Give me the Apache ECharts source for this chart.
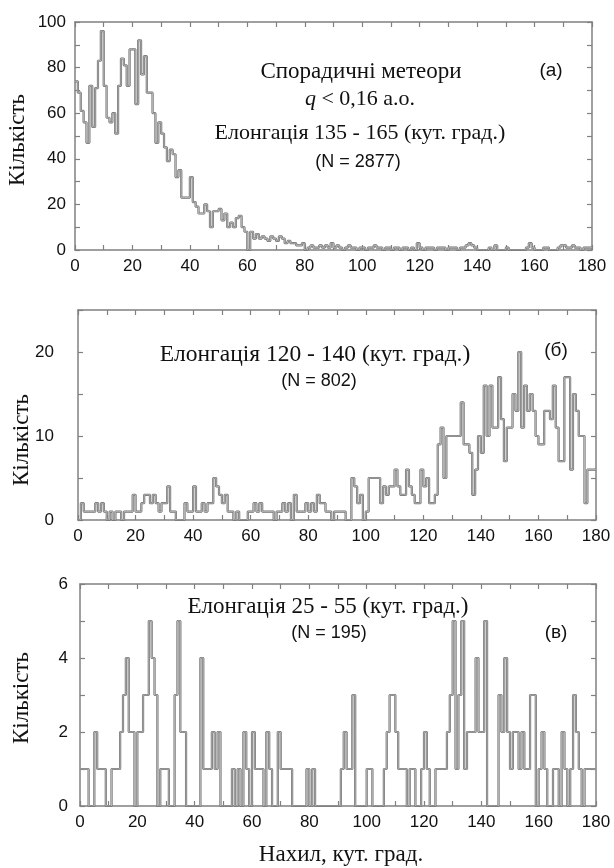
<!DOCTYPE html>
<html>
<head>
<meta charset="utf-8">
<script src="https://cdn.jsdelivr.net/npm/echarts@6/dist/echarts.min.js"></script>
<style>
  html, body { margin: 0; padding: 0; background: #fff; }
  #chart { width: 614px; height: 868px; }
</style>
</head>
<body>
<div id="chart"></div>
<script>
// Inclination bins: 1 degree wide, 0..179
const binStarts = Array.from({ length: 180 }, (_, i) => i);

// (a) Sporadic meteors, q < 0.16 AU, elongation 135-165
const countsA = [
  74, 69, 61, 56, 47, 72, 54, 71, 83, 96,
  72, 58, 56, 60, 51, 72, 84, 81, 72, 88,
  88, 64, 92, 77, 85, 69, 69, 60, 47, 56,
  51, 45, 39, 44, 42, 32, 35, 23, 23, 23,
  32, 21, 19, 16, 16, 20, 17, 10, 17, 17,
  18, 13, 16, 10, 12, 10, 14, 15, 10, 8,
  0, 8, 5, 7, 5, 6, 5, 4, 6, 5,
  4, 6, 5, 3, 4, 3, 3, 2, 2, 3,
  0, 1, 2, 1, 1, 2, 1, 2, 1, 3,
  1, 2, 1, 0, 1, 2, 1, 1, 0, 1,
  1, 0, 1, 1, 2, 1, 1, 0, 1, 1,
  0, 1, 1, 0, 1, 1, 0, 1, 0, 3,
  1, 0, 1, 1, 1, 0, 1, 1, 1, 0,
  1, 1, 1, 0, 1, 1, 2, 3, 2, 1,
  0, 0, 0, 0, 1, 0, 2, 0, 0, 0,
  1, 0, 0, 0, 0, 0, 0, 1, 3, 1,
  0, 0, 0, 1, 1, 0, 0, 0, 1, 2,
  2, 1, 1, 2, 1, 1, 0, 1, 1, 1
];

// (б) elongation 120-140
const countsB = [
  0, 2, 1, 1, 1, 1, 2, 1, 2, 1,
  0, 1, 0, 1, 1, 0, 1, 1, 1, 3,
  1, 1, 2, 3, 3, 2, 3, 2, 1, 2,
  2, 4, 1, 1, 0, 0, 0, 2, 1, 1,
  4, 1, 1, 2, 1, 2, 2, 5, 4, 3,
  2, 3, 1, 1, 0, 1, 0, 0, 0, 1,
  1, 2, 1, 2, 1, 1, 1, 1, 0, 1,
  1, 2, 1, 2, 0, 3, 1, 1, 1, 2,
  1, 2, 1, 3, 2, 2, 1, 1, 0, 1,
  1, 1, 1, 0, 0, 5, 4, 2, 3, 0,
  1, 5, 5, 5, 5, 2, 4, 3, 4, 4,
  6, 4, 3, 3, 6, 4, 3, 2, 2, 6,
  4, 5, 2, 2, 3, 9, 11, 5, 10, 10,
  10, 10, 10, 14, 9, 9, 8, 3, 6, 10,
  8, 16, 10, 16, 11, 11, 17, 12, 7, 11,
  11, 15, 13, 20, 11, 16, 13, 15, 13, 10,
  9, 9, 13, 13, 12, 16, 11, 7, 7, 17,
  17, 6, 15, 13, 10, 10, 2, 6, 6, 6
];

// (в) elongation 25-55
const countsC = [
  1, 1, 1, 0, 0, 2, 1, 1, 1, 0,
  0, 1, 1, 1, 2, 3, 4, 2, 2, 0,
  2, 2, 3, 3, 5, 4, 3, 0, 1, 1,
  1, 0, 0, 3, 5, 2, 2, 0, 0, 0,
  0, 0, 4, 1, 1, 1, 2, 1, 2, 0,
  0, 0, 0, 1, 0, 1, 0, 2, 1, 0,
  2, 1, 1, 1, 0, 2, 1, 0, 0, 2,
  1, 1, 1, 1, 0, 0, 0, 0, 0, 1,
  0, 1, 0, 0, 0, 0, 0, 0, 0, 0,
  0, 1, 2, 1, 1, 3, 0, 0, 0, 0,
  1, 1, 0, 0, 0, 0, 1, 2, 3, 3,
  2, 1, 1, 1, 0, 1, 1, 0, 0, 1,
  2, 1, 0, 0, 1, 1, 1, 1, 2, 3,
  5, 1, 3, 5, 1, 2, 2, 2, 4, 2,
  2, 5, 0, 0, 0, 0, 3, 2, 4, 2,
  1, 2, 2, 1, 2, 1, 1, 3, 3, 0,
  1, 2, 1, 0, 0, 1, 1, 0, 2, 1,
  0, 1, 3, 2, 1, 0, 1, 1, 1, 1
];

// Axis ranges and tick steps
const xMax = 180, xStep = 10, xLabelStep = 20;
const yMaxA = 100, yStepA = 10, yLabelStepA = 20;
const yMaxB = 25,  yStepB = 5,  yLabelStepB = 10;
const yMaxC = 6,   yStepC = 1,  yLabelStepC = 2;

const SERIF = '"Liberation Serif", "DejaVu Serif", serif';
const SANS = '"Liberation Sans", Arial, sans-serif';
const FRAME = '#808080';

// step outline: each bin holds its value up to the next bin edge
function histPoints(counts) {
  const pts = binStarts.map((x, i) => [x, counts[i]]);
  pts.push([xMax, counts[counts.length - 1]]);
  return pts;
}

const grids = [
  { left: 75, top: 22,  width: 517, height: 228 },
  { left: 78, top: 310, width: 518, height: 210 },
  { left: 80, top: 584, width: 516, height: 222 }
];

function xAxes(gi) {
  const base = {
    type: 'value', gridIndex: gi, min: 0, max: xMax, interval: xStep,
    splitLine: { show: false },
    axisLine: { show: true, onZero: false, lineStyle: { color: FRAME, width: 1.5 } },
    axisTick: { show: true, inside: true, length: 5, lineStyle: { color: FRAME, width: 1.2 } }
  };
  return [
    Object.assign({}, base, {
      position: 'bottom',
      axisLabel: {
        show: true, margin: 8, fontFamily: SANS, fontSize: 17, color: '#111',
        formatter: v => (v % xLabelStep === 0 ? String(v) : '')
      }
    }),
    Object.assign({}, base, { position: 'top', axisLabel: { show: false } })
  ];
}

function yAxes(gi, max, step, labelStep, margin) {
  const base = {
    type: 'value', gridIndex: gi, min: 0, max: max, interval: step,
    splitLine: { show: false },
    axisLine: { show: true, onZero: false, lineStyle: { color: FRAME, width: 1.5 } },
    axisTick: { show: true, inside: true, length: 5, lineStyle: { color: FRAME, width: 1.2 } }
  };
  return [
    Object.assign({}, base, {
      position: 'left',
      axisLabel: {
        show: true, margin: margin, fontFamily: SANS, fontSize: 17, color: '#111',
        formatter: v => (v % labelStep === 0 ? String(v) : '')
      }
    }),
    Object.assign({}, base, { position: 'right', axisLabel: { show: false } })
  ];
}

// outline drawn as a darker stroke with a lighter core
function histSeries(counts, xi, yi) {
  const data = histPoints(counts);
  const common = {
    type: 'line', step: 'end', xAxisIndex: xi, yAxisIndex: yi,
    showSymbol: false, symbol: 'none', silent: true, data: data
  };
  return [
    Object.assign({}, common, { lineStyle: { color: '#6e6e6e', width: 2.2 } }),
    Object.assign({}, common, { lineStyle: { color: '#c6c6c6', width: 0.8 } })
  ];
}

function txt(x, y, text, font, size) {
  return {
    type: 'text', x: x, y: y, silent: true,
    style: { text: text, fontFamily: font, fontSize: size, fill: '#111',
             align: 'center', verticalAlign: 'middle' }
  };
}

function yTitle(x, y) {
  return {
    type: 'text', x: x, y: y, rotation: Math.PI / 2, silent: true,
    style: { text: 'Кількість', fontFamily: SERIF, fontSize: 23, fill: '#111',
             align: 'center', verticalAlign: 'middle' }
  };
}

const option = {
  animation: false,
  backgroundColor: '#fff',
  grid: grids,
  xAxis: [].concat(xAxes(0), xAxes(1), xAxes(2)),
  yAxis: [].concat(
    yAxes(0, yMaxA, yStepA, yLabelStepA, 9),
    yAxes(1, yMaxB, yStepB, yLabelStepB, 24),
    yAxes(2, yMaxC, yStepC, yLabelStepC, 12)
  ),
  series: [].concat(
    histSeries(countsA, 0, 0),
    histSeries(countsB, 2, 2),
    histSeries(countsC, 4, 4)
  ),
  graphic: [
    yTitle(18, 140),
    yTitle(22, 440),
    yTitle(22, 698),
    txt(361, 72, 'Спорадичні метеори', SERIF, 23),
    {
      type: 'text', x: 360, y: 99, silent: true,
      style: {
        text: '{i|q} < 0,16 а.о.', fontFamily: SERIF, fontSize: 22, fill: '#111',
        align: 'center', verticalAlign: 'middle',
        rich: { i: { fontFamily: SERIF, fontSize: 22, fontStyle: 'italic', fill: '#111' } }
      }
    },
    txt(360, 133, 'Елонгація 135 - 165 (кут. град.)', SERIF, 22),
    txt(358, 162, '(N = 2877)', SANS, 18),
    txt(551, 71, '(a)', SANS, 19),
    txt(315, 355, 'Елонгація 120 - 140 (кут. град.)', SERIF, 23.5),
    txt(319, 381, '(N = 802)', SANS, 18),
    txt(556, 351, '(б)', SANS, 19),
    txt(328, 607, 'Елонгація 25 - 55 (кут. град.)', SERIF, 23),
    txt(329, 633, '(N = 195)', SANS, 18),
    txt(556, 633, '(в)', SANS, 19),
    txt(341, 855, 'Нахил, кут. град.', SERIF, 23)
  ]
};

const chart = echarts.init(document.getElementById('chart'), null, { renderer: 'canvas' });
chart.setOption(option);
</script>
</body>
</html>
